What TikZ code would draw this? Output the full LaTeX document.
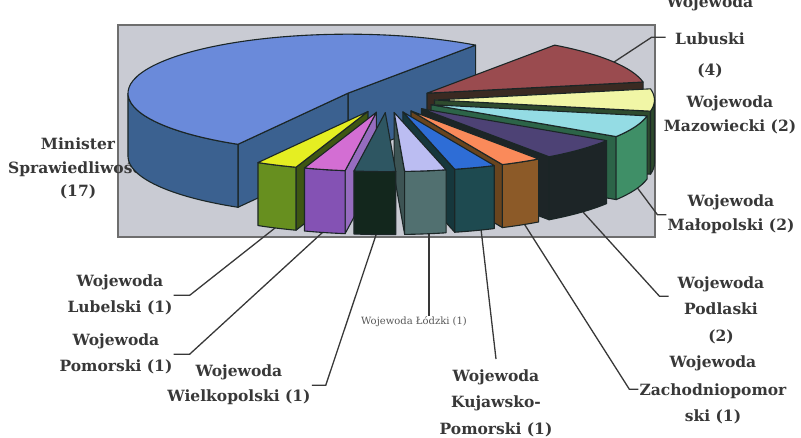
\documentclass[tikz,border=0pt]{standalone}
\usepackage{fontspec}
\setmainfont{DejaVu Serif}

\definecolor{inkgray}{HTML}{383838}
\definecolor{boxfill}{HTML}{C9CBD3}
\definecolor{boxrim}{HTML}{6E6E6E}
\definecolor{rimcol}{HTML}{1B2626}
\definecolor{blueTop}{HTML}{6A8ADA}
\definecolor{blueWall}{HTML}{3B6190}
\definecolor{lubTop}{HTML}{9A4B4F}
\definecolor{lubWall}{HTML}{5A2E2E}
\definecolor{lubFace}{HTML}{3A2A22}
\definecolor{mazTop}{HTML}{F1F6A6}
\definecolor{mazWall}{HTML}{2E4B2E}
\definecolor{malTop}{HTML}{94DCE4}
\definecolor{malWall}{HTML}{3F8F67}
\definecolor{podTop}{HTML}{4D4275}
\definecolor{podWall}{HTML}{1D2527}
\definecolor{zachTop}{HTML}{FA8A5A}
\definecolor{zachWall}{HTML}{8C5A28}
\definecolor{kujTop}{HTML}{2E6DD6}
\definecolor{kujWall}{HTML}{1E4A50}
\definecolor{lodTop}{HTML}{BBBDF2}
\definecolor{lodWall}{HTML}{517070}
\definecolor{wieTop}{HTML}{2E5662}
\definecolor{wieWall}{HTML}{13271D}
\definecolor{pomTop}{HTML}{D36ED3}
\definecolor{pomWall}{HTML}{8452B4}
\definecolor{lbeTop}{HTML}{E5EE22}
\definecolor{lbeWall}{HTML}{678F1F}

% pie: centre, radii, height, explode
\def\pcx{387.5}\def\pcy{-100}\def\prx{220}\def\pry{59}\def\ph{63}\def\pex{47}

% one slice: start, end, top, wall, cut face
\newcommand\pieslice[5]{%
  \pgfmathsetmacro\pmid{(#1+#2)/2}%
  \pgfmathsetmacro\pox{\pcx+\pex*cos(\pmid)}%
  \pgfmathsetmacro\poy{\pcy+\pex*\pry/\prx*sin(\pmid)}%
  \pgfmathsetmacro\pax{\prx*cos(#1)}\pgfmathsetmacro\pay{\pry*sin(#1)}%
  \pgfmathsetmacro\pbx{\prx*cos(#2)}\pgfmathsetmacro\pby{\pry*sin(#2)}%
  \pgfmathtruncatemacro\pshowa{cos(#1)>0}%
  \pgfmathtruncatemacro\pshowb{cos(#2)<0}%
  \pgfmathsetmacro\pwa{max(#1,-180)}%
  \pgfmathsetmacro\pwb{min(#2,0)}%
  \pgfmathsetmacro\pwx{\prx*cos(\pwa)}\pgfmathsetmacro\pwy{\pry*sin(\pwa)}%
  \pgfmathtruncatemacro\pshoww{\pwb>\pwa}%
  \ifnum\pshowa=1
    \filldraw[rim,fill=#5] (\pox,\poy) -- ++(\pax,\pay) -- ++(0,-\ph) -- (\pox,\poy-\ph) -- cycle;
  \fi
  \ifnum\pshowb=1
    \filldraw[rim,fill=#5] (\pox,\poy) -- ++(\pbx,\pby) -- ++(0,-\ph) -- (\pox,\poy-\ph) -- cycle;
  \fi
  \ifnum\pshoww=1
    \filldraw[rim,fill=#4] (\pox+\pwx,\poy+\pwy)
      arc[start angle=\pwa,end angle=\pwb,x radius=\prx,y radius=\pry] -- ++(0,-\ph)
      arc[start angle=\pwb,end angle=\pwa,x radius=\prx,y radius=\pry] -- cycle;
  \fi
  \filldraw[rim,fill=#3] (\pox,\poy) -- ++(\pax,\pay)
    arc[start angle=#1,end angle=#2,x radius=\prx,y radius=\pry] -- cycle;
}

\begin{document}
\begin{tikzpicture}[x=1pt,y=1pt,
  tag/.style={font=\fontsize{15.5}{25}\selectfont\bfseries, text=inkgray, align=center, anchor=base, inner sep=1pt},
  smalltag/.style={font=\fontsize{10}{12}\selectfont, text=inkgray!85, anchor=base, inner sep=1pt},
  leader/.style={draw=inkgray, line width=1.3pt},
  rim/.style={draw=rimcol, line width=1.1pt, line join=round}]

\useasboundingbox (0,0) rectangle (801,-438);

% labels (base = last line)
\node[tag] (lubuski) at (710,-76) {Wojewoda\\[12pt]Lubuski\\[6pt](4)};
\node[tag] (mazowiecki) at (730,-132) {Wojewoda\\[-1pt]Mazowiecki (2)};
\node[tag] (malopolski) at (731,-231) {Wojewoda\\[-1pt]Małopolski (2)};
\node[tag] (lubelski) at (120,-313) {Wojewoda\\[1pt]Lubelski (1)};
\node[tag] (pomorski) at (116,-372) {Wojewoda\\[1pt]Pomorski (1)};
\node[tag] (wielkopolski) at (239,-402) {Wojewoda\\Wielkopolski (1)};
\node[smalltag] (lodzki) at (414,-325) {Wojewoda Łódzki (1)};
\node[tag] (kujawsko) at (496,-434) {Wojewoda\\[1pt]Kujawsko-\\[1pt]Pomorski (1)};
\node[tag] (podlaski) at (721,-342) {Wojewoda\\[2pt]Podlaski\\[2pt](2)};
\node[tag] (zachodnio) at (713,-421) {Wojewoda\\[3pt]Zachodniopomor\\[1pt]ski (1)};

% chart area
\draw[draw=boxrim, fill=boxfill, line width=1.4pt] (118,-25) rectangle (655,-237);
\node[tag] (minister) at (78,-197) {Minister\\[-1.5pt]Sprawiedliwości\\[-1.5pt](17)};

% leader lines
\coordinate (lubuskiTip) at (608,-66);
\coordinate (malopolskiTip) at (636,-186);
\coordinate (podlaskiTip) at (583,-212);
\coordinate (zachodnioTip) at (523,-222);
\coordinate (kujawskoTip) at (481,-229);
\coordinate (lodzkiTip) at (429,-233);
\coordinate (wielkopolskiTip) at (376,-235);
\coordinate (pomorskiTip) at (323,-232);
\coordinate (lubelskiTip) at (275,-228);

\draw[leader] (lubuski.west) -- ++(-14,0) -- (lubuskiTip);
\draw[leader] (malopolski.west) -- ++(-9,0) -- (malopolskiTip);
\draw[leader] ([xshift=-8pt,yshift=14pt]podlaski.west) -- ++(-9,0) -- (podlaskiTip);
\draw[leader] (zachodnio.west) -- ++(-9,0) -- (zachodnioTip);
\draw[leader] ([yshift=10pt]kujawsko.north) -- (kujawskoTip);
\draw[leader] (lodzkiTip) -- (lodzkiTip |- lodzki.north);
\draw[leader] (wielkopolski.east) -- ++(14,0) -- (wielkopolskiTip);
\draw[leader] (pomorski.east) -- ++(16,0) -- (pomorskiTip);
\draw[leader] (lubelski.east) -- ++(16,0) -- (lubelskiTip);

% slices, back to front
\pieslice{-305.45}{-120}{blueTop}{blueWall}{blueWall}
\pieslice{10.91}{54.55}{lubTop}{lubWall}{lubFace}
\pieslice{-10.91}{10.91}{mazTop}{mazWall}{mazWall}
\pieslice{-32.73}{-10.91}{malTop}{malWall}{malWall!70!black}
\pieslice{-54.55}{-32.73}{podTop}{podWall}{podWall}
\pieslice{-65.45}{-54.55}{zachTop}{zachWall}{zachWall!75!black}
\pieslice{-120}{-109.09}{lbeTop}{lbeWall}{lbeWall!60!black}
\pieslice{-76.36}{-65.45}{kujTop}{kujWall}{kujWall!75!black}
\pieslice{-109.09}{-98.18}{pomTop}{pomWall}{pomWall!85!white}
\pieslice{-87.27}{-76.36}{lodTop}{lodWall}{lodWall!75!black}
\pieslice{-98.18}{-87.27}{wieTop}{wieWall}{wieWall}
\end{tikzpicture}
\end{document}
